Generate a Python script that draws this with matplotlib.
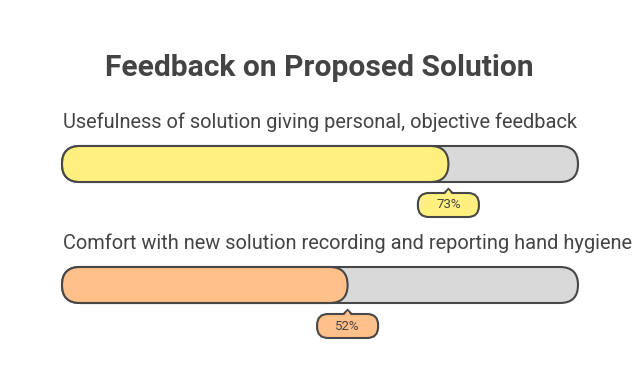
import matplotlib
matplotlib.use('Agg')
import matplotlib.pyplot as plt
from matplotlib.patches import FancyBboxPatch, Polygon

title = "Feedback on Proposed Solution"
questions = ["Usefulness of solution giving personal, objective feedback",
             "Comfort with new solution recording and reporting hand hygiene"]
values = [73, 52]
colors = ["#fff080", "#ffc08a"]

W, H = 638, 387
fig = plt.figure(figsize=(W / 100, H / 100), dpi=100)
ax = fig.add_axes([0, 0, 1, 1])
ax.set_xlim(0, W)
ax.set_ylim(0, H)
ax.axis('off')

edge = "#474747"
txt = "#444444"
x0, x1 = 62, 578
bh = 36
r = bh / 2

def Y(y):
    return H - y

ax.text(319, Y(68), title, ha='center', va='center', fontsize=21.6,
        fontweight='bold', family='Roboto', color=txt)

for i, (q, v, c) in enumerate(zip(questions, values, colors)):
    top = 146 + i * 121
    ax.text(63, Y(top - 24), q, ha='left', va='center', fontsize=14.4,
            family='Roboto', color=txt)
    # track
    ax.add_patch(FancyBboxPatch((x0, Y(top + bh)), x1 - x0, bh,
                                boxstyle=f"round,pad=0,rounding_size={r}",
                                fc="#d9d9d9", ec=edge, lw=1.5, zorder=2))
    fw = bh + v / 100 * (x1 - x0 - bh)
    ax.add_patch(FancyBboxPatch((x0, Y(top + bh)), fw, bh,
                                boxstyle=f"round,pad=0,rounding_size={r}",
                                fc=c, ec=edge, lw=1.5, zorder=3))
    # callout
    cx = x0 + fw
    ctop = top + bh + 11
    cw, ch = 61, 24
    tri = [(cx - 5, Y(ctop + 1)), (cx, Y(ctop - 4)), (cx + 5, Y(ctop + 1))]
    ax.add_patch(Polygon(tri, closed=True, fc=c, ec=edge, lw=1.5, zorder=4))
    ax.add_patch(FancyBboxPatch((cx - cw / 2, Y(ctop + ch)), cw, ch,
                                boxstyle="round,pad=0,rounding_size=11",
                                fc=c, ec=edge, lw=1.5, zorder=5))
    tri2 = [(cx - 4, Y(ctop + 2)), (cx, Y(ctop - 3)), (cx + 4, Y(ctop + 2))]
    ax.add_patch(Polygon(tri2, closed=True, fc=c, ec='none', zorder=6))
    ax.text(cx, Y(ctop + ch / 2), f"{v}%", ha='center', va='center',
            fontsize=9.5, family='Roboto', color=txt, zorder=7)

fig.savefig('out.png', dpi=100)
